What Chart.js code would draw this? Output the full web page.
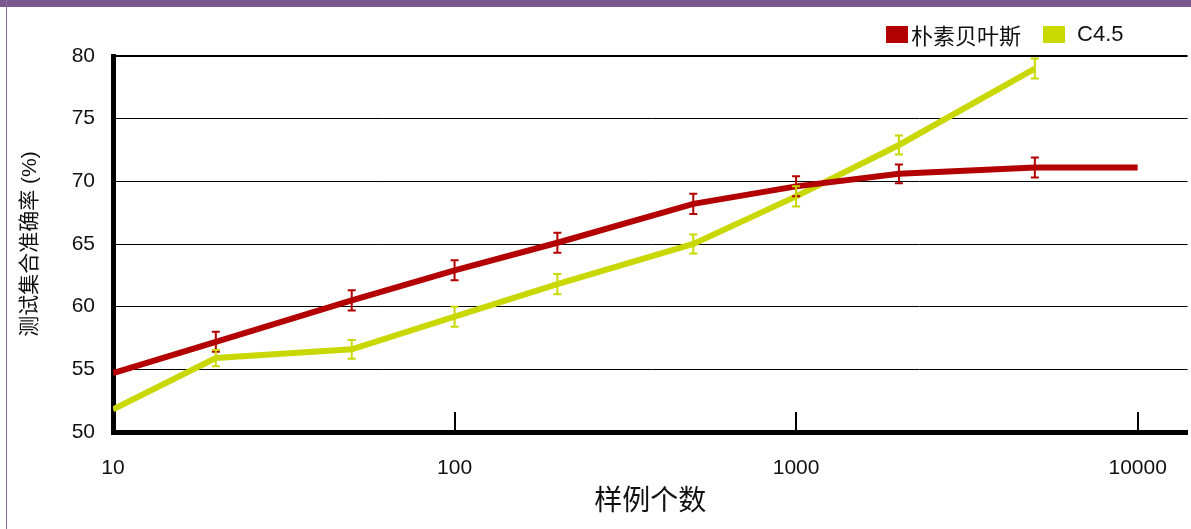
<!DOCTYPE html>
<html>
<head>
<meta charset="utf-8">
<script src="https://cdn.jsdelivr.net/npm/chart.js@4"></script>
<style>
  body { margin: 0; background: #fff; }
  #wrap { position: relative; width: 1191px; height: 529px; overflow: hidden; }
  #band { position: absolute; left: 0; top: 0; width: 1191px; height: 7px; background: #7b5890; }
  #edge { position: absolute; left: 6px; top: 0; width: 1px; height: 529px; background: #8a68a0; }
  #legend { position: absolute; top: 18px; left: 886px; font: 22px "Liberation Sans", "Noto Sans CJK SC", sans-serif; color: #111; display: flex; align-items: center; }
  #legend span.box { display: inline-block; width: 22px; height: 17px; margin-right: 3px; }
  #legend span.txt { margin-right: 22px; }
  #legend span.txt:last-child { margin-left: 9px; }
</style>
</head>
<body>
<div id="wrap">
  <canvas id="chart" width="1191" height="529"></canvas>
  <div id="band"></div>
  <div id="edge"></div>
  <div id="legend"></div>
</div>
<script>
/* ---------- DATA ---------- */
const sizes      = [10, 20, 50, 100, 200, 500, 1000, 2000, 5000, 10000];
const xTicks     = [10, 100, 1000, 10000];
const seriesName = ["朴素贝叶斯", "C4.5"];
const bayesAcc   = [54.7, 57.2, 60.5, 62.9, 65.1, 68.2, 69.6, 70.6, 71.1, 71.1];
const bayesErr   = [null, 0.8, 0.8, 0.8, 0.8, 0.8, 0.8, 0.75, 0.8, null];
const c45Acc     = [51.8, 55.9, 56.6, 59.2, 61.8, 65.0, 68.8, 72.9, 79.0];
const c45Err     = [null, 0.65, 0.75, 0.8, 0.8, 0.75, 0.8, 0.75, 0.8];

/* ---------- COLORS ---------- */
const COLORS = ["#b30000", "#c8d800"];
const FONT = "'Liberation Sans', 'Noto Sans CJK SC', sans-serif";

const toPoints = (vals) => vals.map((v, i) => ({ x: sizes[i], y: v }));

/* error bars drawn through the chart scales */
const errorBars = {
    id: "errorBars",
    afterDatasetsDraw(chart) {
        const ctx = chart.ctx;
        const ys = chart.scales.y;
        const errs = [bayesErr, c45Err];
        chart.data.datasets.forEach((ds, di) => {
            const meta = chart.getDatasetMeta(di);
            ctx.save();
            ctx.strokeStyle = ds.borderColor;
            ctx.lineWidth = 2;
            meta.data.forEach((pt, i) => {
                const e = errs[di][i];
                if (!e) return;
                const v = ds.data[i].y;
                const top = ys.getPixelForValue(v + e);
                const bot = ys.getPixelForValue(v - e);
                ctx.beginPath();
                ctx.moveTo(pt.x, top); ctx.lineTo(pt.x, bot);
                ctx.moveTo(pt.x - 4, top); ctx.lineTo(pt.x + 4, top);
                ctx.moveTo(pt.x - 4, bot); ctx.lineTo(pt.x + 4, bot);
                ctx.stroke();
            });
            ctx.restore();
        });
    }
};

/* inward tick marks on the x axis */
const innerTicks = {
    id: "innerTicks",
    afterDraw(chart) {
        const ctx = chart.ctx;
        const xs = chart.scales.x;
        const b = chart.chartArea.bottom;
        ctx.save();
        ctx.strokeStyle = "#000";
        ctx.lineWidth = 2;
        xTicks.slice(1).forEach(v => {
            const px = Math.round(xs.getPixelForValue(v));
            ctx.beginPath();
            ctx.moveTo(px, b);
            ctx.lineTo(px, b - 20);
            ctx.stroke();
        });
        ctx.restore();
    }
};

const chart = new Chart(document.getElementById("chart"), {
    type: "line",
    data: {
        datasets: [
            { label: seriesName[0], data: toPoints(bayesAcc), borderColor: COLORS[0], backgroundColor: COLORS[0] },
            { label: seriesName[1], data: toPoints(c45Acc),   borderColor: COLORS[1], backgroundColor: COLORS[1] }
        ]
    },
    options: {
        responsive: false,
        animation: false,
        layout: { padding: { top: 56, right: 3, bottom: 0, left: 0 } },
        elements: {
            line: { borderWidth: 6, tension: 0 },
            point: { radius: 0 }
        },
        scales: {
            x: {
                type: "logarithmic",
                min: 10,
                max: 14000,
                afterBuildTicks: (s) => { s.ticks = xTicks.map(v => ({ value: v })); },
                afterFit: (s) => { s.height = 97; },
                ticks: {
                    color: "#111",
                    font: { family: FONT, size: 21 },
                    padding: 24,
                    maxRotation: 0,
                    autoSkip: false,
                    callback: (v) => String(v)
                },
                grid: { display: false, drawTicks: false },
                border: { display: true, color: "#000", width: 5 },
                title: {
                    display: true,
                    text: "样例个数",
                    color: "#111",
                    font: { family: FONT, size: 28 },
                    padding: { top: 0, bottom: 10 }
                }
            },
            y: {
                min: 50,
                max: 80,
                afterFit: (s) => { s.width = 113; },
                ticks: {
                    stepSize: 5,
                    color: "#111",
                    font: { family: FONT, size: 21 },
                    padding: 18
                },
                grid: {
                    color: "#000",
                    lineWidth: (c) => (c.tick && c.tick.value === 80 ? 2 : 1),
                    drawTicks: false
                },
                border: { display: true, color: "#000", width: 5 },
                title: {
                    display: true,
                    text: "测试集合准确率 (%)",
                    color: "#111",
                    font: { family: FONT, size: 21 },
                    padding: { top: 18, bottom: 0 }
                }
            }
        },
        plugins: {
            legend: { display: false },
            tooltip: { enabled: false }
        }
    },
    plugins: [errorBars, innerTicks]
});

/* ---------- LEGEND ---------- */
const legendBox = document.getElementById("legend");
chart.data.datasets.forEach(ds => {
    legendBox.insertAdjacentHTML("beforeend",
        `<span class="box" style="background:${ds.borderColor}"></span><span class="txt">${ds.label}</span>`);
});
</script>
</body>
</html>
